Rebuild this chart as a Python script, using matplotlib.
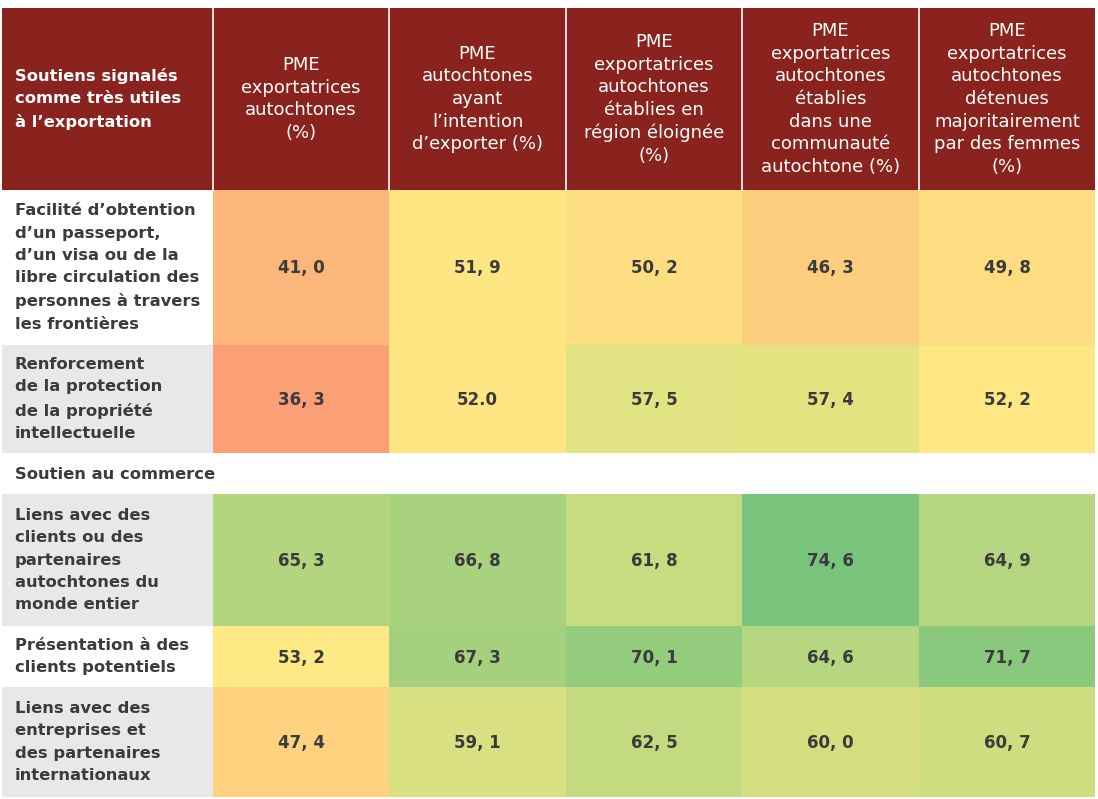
import numpy as np
import matplotlib
matplotlib.use("Agg")
import matplotlib.pyplot as plt
from matplotlib.colors import LinearSegmentedColormap, TwoSlopeNorm
from matplotlib.patches import Rectangle

# ---------------- data ----------------
corner_label = "Soutiens signalés\ncomme très utiles\nà l’exportation"
col_labels = [
    "PME\nexportatrices\nautochtones\n(%)",
    "PME\nautochtones\nayant\nl’intention\nd’exporter (%)",
    "PME\nexportatrices\nautochtones\nétablies en\nrégion éloignée\n(%)",
    "PME\nexportatrices\nautochtones\nétablies\ndans une\ncommunauté\nautochtone (%)",
    "PME\nexportatrices\nautochtones\ndétenues\nmajoritairement\npar des femmes\n(%)",
]
row_labels = [
    "Facilité d’obtention\nd’un passeport,\nd’un visa ou de la\nlibre circulation des\npersonnes à travers\nles frontières",
    "Renforcement\nde la protection\nde la propriété\nintellectuelle",
    "Soutien au commerce",
    "Liens avec des\nclients ou des\npartenaires\nautochtones du\nmonde entier",
    "Présentation à des\nclients potentiels",
    "Liens avec des\nentreprises et\ndes partenaires\ninternationaux",
]
is_section = [False, False, True, False, False, False]
row_values = [
    [41.0, 51.9, 50.2, 46.3, 49.8],
    [36.3, 52.0, 57.5, 57.4, 52.2],
    None,
    [65.3, 66.8, 61.8, 74.6, 64.9],
    [53.2, 67.3, 70.1, 64.6, 71.7],
    [47.4, 59.1, 62.5, 60.0, 60.7],
]
row_text = [
    ["41, 0", "51, 9", "50, 2", "46, 3", "49, 8"],
    ["36, 3", "52.0", "57, 5", "57, 4", "52, 2"],
    None,
    ["65, 3", "66, 8", "61, 8", "74, 6", "64, 9"],
    ["53, 2", "67, 3", "70, 1", "64, 6", "71, 7"],
    ["47, 4", "59, 1", "62, 5", "60, 0", "60, 7"],
]

# ---------------- layout (pixels) ----------------
W, H = 1098, 799
x_edges = np.array([213, 389, 566, 742, 919, 1095])
y_edges = np.array([190, 345, 453, 494, 626, 687, 797])
label_x0 = 2
header_top = 8
label_bg = ["white", "#E9E8E9", "white", "#E9E8E9", "white", "#E9E8E9"]

HEADER = "#8A221D"
TXT = "#3B3B3B"
FONT = ["DejaVu Sans"]

cmap = LinearSegmentedColormap.from_list("ryg", ["#F8696B", "#FFEB84", "#63BE7B"])
norm = TwoSlopeNorm(vmin=24, vcenter=53, vmax=78)

fig = plt.figure(figsize=(W / 100, H / 100), dpi=100)
ax = fig.add_axes([0, 0, 1, 1])
ax.set_xlim(0, W)
ax.set_ylim(H, 0)
ax.axis("off")

# value grid (section row masked)
grid = np.ma.masked_all((len(row_values), len(col_labels)))
for i, rv in enumerate(row_values):
    if rv is not None:
        grid[i, :] = rv
ax.pcolormesh(x_edges, y_edges, grid, cmap=cmap, norm=norm, shading="flat",
              edgecolors="none", antialiased=False)

# header
ax.add_patch(Rectangle((label_x0, header_top), x_edges[-1] - label_x0,
                       y_edges[0] - header_top, facecolor=HEADER, edgecolor="none"))
for xe in x_edges[:-1]:
    ax.plot([xe, xe], [header_top, y_edges[0]], color="white", lw=1.2)
hc = (header_top + y_edges[0]) / 2
ax.text(15, hc, corner_label, color="white",
        fontsize=11.8, fontweight="bold", family=FONT, ha="left", va="center",
        linespacing=1.62)
for j, lab in enumerate(col_labels):
    cx = (x_edges[j] + x_edges[j + 1]) / 2
    ax.text(cx, hc, lab, color="white",
            fontsize=13, family=FONT, ha="center", va="center", linespacing=1.33)

# rows
for i, lab in enumerate(row_labels):
    y0, y1 = y_edges[i], y_edges[i + 1]
    ym = (y0 + y1) / 2
    if is_section[i]:
        ax.text(15, ym + 1, lab, color=TXT, fontsize=11.8, fontweight="bold",
                family=FONT, ha="left", va="center")
        continue
    ax.add_patch(Rectangle((label_x0, y0), x_edges[0] - label_x0, y1 - y0,
                           facecolor=label_bg[i], edgecolor="none"))
    ax.text(15, ym, lab, color=TXT, fontsize=11.8, fontweight="bold",
            family=FONT, ha="left", va="center", linespacing=1.62)
    for j, t in enumerate(row_text[i]):
        cx = (x_edges[j] + x_edges[j + 1]) / 2
        ax.text(cx, ym + 1, t, color=TXT, fontsize=12, fontweight="bold",
                family=FONT, ha="center", va="center")

fig.savefig("out.png", dpi=100, facecolor="white")
